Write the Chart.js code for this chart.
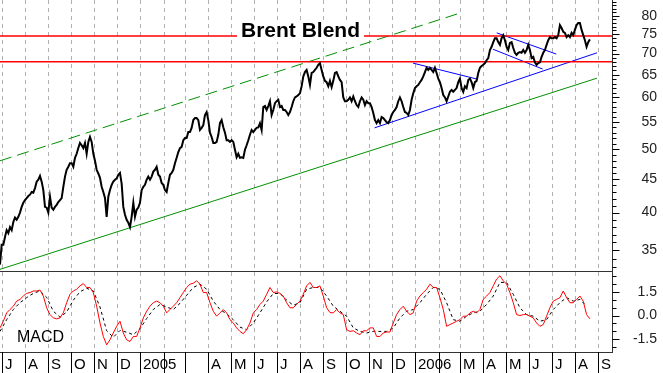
<!DOCTYPE html>
<html>
<head>
<meta charset="utf-8">
<script src="https://cdn.jsdelivr.net/npm/chart.js@4.4.1/dist/chart.umd.min.js"></script>
<style>
  html, body { margin: 0; padding: 0; background: #fff; }
  #wrap { width: 663px; height: 373px; position: relative; }
</style>
</head>
<body>
<div id="wrap"><canvas id="brent"></canvas></div>
<script>
// Brent Blend close (USD/bbl), one reading every ~2.2 days
const priceStart = '2004-06-29';
const priceStepDays = 2.211;
const brent = [
  33.3, 35.7, 35.7, 36.7, 37.6, 37.2, 38.0, 37.6, 38.7, 39.3,
  39.0, 39.4, 40.0, 40.8, 41.4, 41.8, 42.1, 42.4, 42.6, 43.0,
  42.9, 43.6, 44.6, 44.9, 45.5, 44.6, 43.3, 40.8, 40.7, 40.0,
  42.3, 40.7, 40.4, 40.8, 41.1, 41.5, 41.8, 42.1, 43.8, 45.4,
  46.5, 47.0, 47.6, 47.6, 47.0, 48.5, 49.2, 50.2, 51.1, 50.7,
  50.2, 51.1, 49.2, 51.3, 52.2, 51.3, 49.2, 48.0, 46.5, 45.9,
  45.2, 43.8, 43.0, 42.1, 39.4, 42.3, 43.3, 44.1, 44.6, 44.9,
  45.1, 45.7, 46.0, 44.3, 40.8, 39.7, 39.0, 38.6, 38.0, 39.4,
  41.4, 39.4, 40.4, 40.7, 41.4, 43.3, 43.8, 44.1, 44.9, 45.4,
  44.9, 45.4, 46.2, 46.5, 47.0, 45.7, 45.4, 44.4, 44.1, 43.3,
  43.0, 44.4, 45.7, 46.0, 46.5, 47.6, 48.5, 49.5, 50.2, 50.4,
  51.6, 52.0, 52.0, 53.1, 53.1, 53.9, 55.4, 55.8, 55.8, 55.4,
  53.5, 53.9, 54.4, 56.4, 57.0, 55.4, 53.0, 52.2, 51.1, 51.1,
  51.3, 52.6, 54.8, 55.4, 54.0, 53.0, 51.6, 51.6, 51.3, 51.6,
  51.3, 49.9, 48.6, 49.2, 48.5, 48.6, 48.5, 49.9, 50.7, 51.6,
  52.6, 53.5, 53.1, 53.5, 53.9, 54.0, 54.8, 53.5, 58.0, 58.2,
  57.4, 58.2, 59.2, 56.4, 57.4, 58.8, 59.2, 59.5, 58.0, 58.2,
  57.4, 57.4, 57.0, 56.4, 57.0, 58.0, 59.2, 60.0, 60.2, 60.5,
  60.9, 62.4, 64.6, 65.6, 66.1, 64.6, 62.7, 65.4, 65.6, 66.1,
  66.6, 67.3, 67.7, 66.1, 64.6, 63.6, 63.3, 62.4, 63.6, 62.2,
  63.6, 65.4, 65.6, 64.6, 63.8, 63.3, 60.0, 59.2, 59.2, 59.5,
  60.0, 59.2, 60.2, 59.2, 58.4, 58.0, 59.2, 60.0, 59.5, 58.4,
  59.2, 58.8, 58.8, 58.0, 56.8, 55.4, 54.8, 55.4, 54.8, 56.0,
  55.8, 55.4, 55.0, 54.8, 55.4, 56.4, 57.0, 57.4, 58.0, 59.2,
  60.0, 59.2, 58.0, 57.0, 56.8, 56.4, 57.4, 59.5, 60.9, 62.0,
  62.4, 62.7, 63.3, 63.8, 64.6, 65.6, 66.6, 66.1, 66.6, 66.1,
  65.6, 66.6, 65.4, 64.1, 63.3, 62.0, 60.5, 60.0, 59.2, 60.2,
  61.2, 61.6, 61.2, 61.6, 62.0, 63.3, 64.1, 62.0, 61.2, 62.4,
  62.0, 63.8, 64.1, 63.3, 62.0, 63.3, 63.6, 65.4, 66.6, 67.0,
  67.3, 67.7, 68.4, 68.9, 70.9, 71.7, 72.9, 73.9, 73.9, 72.9,
  72.2, 73.9, 74.7, 73.4, 71.7, 70.9, 72.7, 72.9, 71.4, 70.2,
  69.7, 70.2, 70.4, 70.2, 70.9, 70.2, 70.9, 72.2, 70.9, 68.9,
  69.2, 67.9, 67.3, 67.7, 67.9, 69.2, 70.2, 70.9, 72.2, 73.4,
  74.2, 73.9, 73.9, 74.2, 73.9, 74.7, 77.4, 76.6, 75.6, 75.3,
  74.2, 74.7, 74.2, 75.3, 74.7, 76.1, 77.4, 78.0, 78.0, 76.1,
  74.7, 73.4, 71.7, 72.9, 73.6
];

// MACD (red) and signal (black dashed)
const macdStepDays = 4.422;
const macd = [
  -0.78, -0.36, 0.17, 0.38, 0.59, 0.91, 1.02, 1.23, 1.40, 1.45,
  1.55, 1.55, 1.61, 1.23, 0.49, 0.06, -0.15, -0.21, -0.15, 0.17,
  0.81, 1.34, 1.55, 1.66, 1.87, 2.02, 1.77, 1.77, 1.45, 0.59,
  -0.47, -1.32, -1.85, -1.53, -1.10, -0.68, -0.36, -1.10, -1.53, -1.64,
  -1.32, -1.32, -0.78, -0.15, 0.27, 0.59, 0.81, 0.91, 0.81, 0.59,
  0.17, 0.38, 0.59, 0.81, 1.13, 1.45, 1.77, 1.98, 2.04, 2.19,
  1.98, 1.45, 1.45, 0.81, 0.27, -0.04, 0.17, 0.38, 0.17, -0.26,
  -0.47, -0.78, -1.00, -1.15, -0.89, -0.47, 0.17, 0.38, 0.70, 0.91,
  1.34, 1.77, 1.45, 1.49, 1.40, 1.23, 0.81, 0.49, 0.49, 0.70,
  0.91, 1.34, 1.87, 2.09, 1.77, 1.77, 1.87, 1.23, 0.49, 0.19,
  0.17, 0.38, 0.17, 0.06, -0.89, -1.00, -0.96, -1.10, -1.21, -0.96,
  -0.96, -0.78, -0.78, -1.32, -1.32, -1.10, -1.04, -1.04, -0.47, 0.06,
  0.38, 0.59, 0.27, 0.06, 0.17, 0.91, 1.23, 1.45, 1.66, 1.98,
  1.77, 1.77, 1.13, 0.38, -0.68, -0.57, -0.47, -0.36, -0.26, -0.04,
  -0.04, 0.17, 0.27, 0.17, 0.38, 1.02, 1.23, 1.45, 1.87, 2.30,
  2.51, 2.19, 1.98, 1.45, 0.81, 0.06, 0.00, 0.06, 0.06, -0.04,
  -0.15, -0.47, -0.68, -0.57, -0.04, 0.49, 0.91, 1.02, 1.13, 1.55,
  1.13, 0.81, 0.81, 1.02, 1.23, 0.91, 0.06, -0.21
];
const signalStepDays = 8.844;
const signal = [
  -1.00, -0.26, 0.38, 0.81, 1.13, 1.40, 1.55, 1.15, 0.27, -0.10,
  0.22, 0.97, 1.50, 1.72, 1.55, 0.54, -0.96, -1.37, -0.94, -1.05,
  -1.21, -0.83, -0.19, 0.38, 0.70, 0.54, 0.38, 0.77, 1.28, 1.77,
  1.98, 1.66, 0.91, 0.38, 0.11, -0.26, -0.73, -0.89, -0.47, 0.17,
  0.86, 1.39, 1.39, 0.97, 0.65, 0.81, 1.66, 1.77, 1.77, 1.23,
  0.59, 0.27, -0.04, -0.78, -1.00, -1.10, -1.00, -1.00, -1.00, -0.78,
  -0.15, 0.27, 0.38, 0.81, 1.34, 1.77, 1.66, 0.81, -0.26, -0.36,
  -0.04, 0.17, 0.27, 0.70, 1.23, 2.09, 2.09, 1.34, 0.49, 0.06,
  -0.04, -0.36, -0.26, 0.38, 0.81, 1.13, 0.91, 1.02, 0.59
];

// resistance levels
const levels = [74.5, 68.0];

// trend lines, [date, value] at each end
const channelTop = [['2004-06-29', 48.0], ['2006-03-05', 81.0]];
const channelBottom = [['2004-06-29', 32.75], ['2006-08-30', 64.2]];
const supportLine = [['2005-11-08', 53.9], ['2006-08-30', 70.2]];
const triangleTop = [['2005-12-29', 67.7], ['2006-03-24', 64.0]];
const flagTop = [['2006-04-19', 75.3], ['2006-07-07', 69.9]];
const flagBottom = [['2006-04-14', 71.1], ['2006-06-19', 66.3]];

// month axis
const monthLabels = ['J', 'A', 'S', 'O', 'N', 'D', '2005', '', '', 'A', 'M', 'J', 'J', 'A',
  'S', 'O', 'N', 'D', '2006', '', 'M', 'A', 'M', 'J', 'J', 'A', 'S'];
const priceTicks = [35, 40, 45, 50, 55, 60, 65, 70, 75, 80];
const macdTicks = [-1.5, 0, 1.5];

const DAY = 86400000;
const origin = Date.parse('2004-07-01');
const dayOf = s => (Date.parse(s) - origin) / DAY;

const monthDays = monthLabels.map((_, i) => {
  const d = new Date(Date.UTC(2004, 6 + i, 1));
  return (d.getTime() - origin) / DAY;
});

const xMin = dayOf('2004-06-29');
const xMax = dayOf('2006-09-19');

const series = (vals, start, step) => vals.map((v, i) => ({ x: start + i * step, y: v }));
const segment = pts => pts.map(p => ({ x: dayOf(p[0]), y: p[1] }));

const FONT = "'Liberation Sans', Arial, sans-serif";

const decor = {
  id: 'decor',
  beforeDatasetsDraw(chart) {
    const { ctx, chartArea: a, scales: { x } } = chart;
    ctx.save();
    ctx.strokeStyle = '#b0b0b0';
    ctx.lineWidth = 1;
    ctx.setLineDash([4, 4]);
    monthDays.forEach(d => {
      const px = Math.round(x.getPixelForValue(d)) + 0.5;
      ctx.beginPath();
      ctx.moveTo(px, a.top);
      ctx.lineTo(px, a.bottom);
      ctx.stroke();
    });
    ctx.restore();
  },
  afterDatasetsDraw(chart) {
    const { ctx, chartArea: a, scales: { x, yPrice, yMacd } } = chart;
    ctx.save();

    // title with white box over the lines
    ctx.font = 'bold 21px ' + FONT;
    const title = 'Brent Blend';
    const tw = ctx.measureText(title).width;
    const tx = 241;
    ctx.fillStyle = '#fff';
    ctx.fillRect(tx - 4, 20, tw + 8, 22);
    ctx.fillStyle = '#000';
    ctx.textBaseline = 'alphabetic';
    ctx.fillText(title, tx, 37);

    // panel frame
    ctx.strokeStyle = '#333';
    ctx.lineWidth = 1;
    ctx.beginPath();
    const sep = Math.round(yPrice.bottom) + 0.5;
    ctx.moveTo(a.left, sep); ctx.lineTo(a.right, sep);
    const bot = Math.round(a.bottom) + 0.5;
    ctx.moveTo(a.left, bot); ctx.lineTo(a.right + 1, bot);
    const rx = Math.round(a.right) + 0.5;
    ctx.moveTo(rx, a.top); ctx.lineTo(rx, a.bottom);
    ctx.stroke();

    // right axis ticks
    ctx.strokeStyle = '#000';
    ctx.beginPath();
    for (let v = 33; v <= 84; v++) {
      const py = Math.round(yPrice.getPixelForValue(v)) + 0.5;
      ctx.moveTo(rx, py); ctx.lineTo(rx + (v % 5 === 0 ? 7 : 4), py);
    }
    for (let v = -2; v <= 2.5; v += 0.5) {
      const py = Math.round(yMacd.getPixelForValue(v)) + 0.5;
      const major = Math.abs(v % 1.5) < 1e-9;
      ctx.moveTo(rx, py); ctx.lineTo(rx + (major ? 7 : 4), py);
    }
    ctx.stroke();

    // right axis labels
    ctx.fillStyle = '#222';
    ctx.font = '14px ' + FONT;
    ctx.textAlign = 'right';
    ctx.textBaseline = 'middle';
    priceTicks.forEach(v => ctx.fillText(String(v), 657, yPrice.getPixelForValue(v)));
    macdTicks.forEach(v => ctx.fillText(v.toFixed(1), 657, yMacd.getPixelForValue(v)));

    // month ticks and labels
    ctx.textAlign = 'left';
    ctx.textBaseline = 'alphabetic';
    ctx.font = '15px ' + FONT;
    ctx.fillStyle = '#000';
    ctx.beginPath();
    monthDays.forEach((d, i) => {
      const px = Math.round(x.getPixelForValue(d)) + 0.5;
      ctx.moveTo(px, a.bottom);
      ctx.lineTo(px, a.bottom + 21);
    });
    ctx.stroke();
    monthDays.forEach((d, i) => {
      const px = Math.round(x.getPixelForValue(d));
      if (monthLabels[i]) ctx.fillText(monthLabels[i], px + 3, a.bottom + 17);
    });

    // indicator name
    ctx.font = '16px ' + FONT;
    ctx.fillText('MACD', 17, 342);
    ctx.restore();
  }
};

const lineStyle = (data, color, width, extra) => Object.assign({
  data, borderColor: color, borderWidth: width, pointRadius: 0, tension: 0,
  yAxisID: 'yPrice', order: 2
}, extra || {});

const datasets = [
  lineStyle(series(brent, dayOf(priceStart), priceStepDays), '#000', 2, { order: 0 }),
  ...levels.map(v => lineStyle([{ x: xMin, y: v }, { x: xMax, y: v }], '#ff0000', 1.5, { order: 1 })),
  lineStyle(segment(channelTop), '#009000', 1, { borderDash: [12, 6] }),
  lineStyle(segment(channelBottom), '#009000', 1),
  lineStyle(segment(supportLine), '#0000ff', 1),
  lineStyle(segment(triangleTop), '#0000ff', 1),
  lineStyle(segment(flagTop), '#0000ff', 1),
  lineStyle(segment(flagBottom), '#0000ff', 1),
  lineStyle(series(macd, dayOf(priceStart), macdStepDays), '#ff0000', 1, { yAxisID: 'yMacd', order: 0 }),
  lineStyle(series(signal, dayOf(priceStart), signalStepDays), '#000', 1, { yAxisID: 'yMacd', borderDash: [3, 3], order: 1 })
];

const fitRight = s => { s.width = 51; };

new Chart(document.getElementById('brent'), {
  type: 'line',
  data: { datasets },
  options: {
    responsive: true,
    maintainAspectRatio: false,
    animation: false,
    devicePixelRatio: 1,
    events: [],
    layout: { padding: { left: 0, right: 0, top: 0, bottom: 21 } },
    plugins: { legend: { display: false }, tooltip: { enabled: false } },
    scales: {
      x: { type: 'linear', min: xMin, max: xMax, display: false },
      yPrice: {
        type: 'logarithmic', position: 'right', stack: 'panels', stackWeight: 271,
        min: 32.56, max: 84.55,
        ticks: { display: false }, grid: { display: false }, border: { display: false },
        afterFit: fitRight
      },
      yMacd: {
        type: 'linear', position: 'right', stack: 'panels', stackWeight: 81,
        min: -2.30, max: 2.81,
        ticks: { display: false }, grid: { display: false }, border: { display: false },
        afterFit: fitRight
      }
    }
  },
  plugins: [decor]
});
</script>
</body>
</html>
